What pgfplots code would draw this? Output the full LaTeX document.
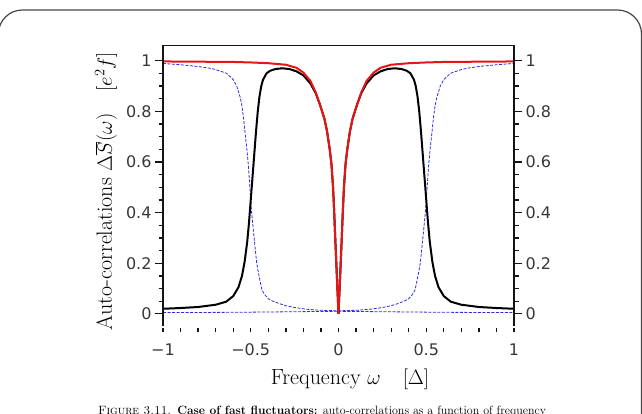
\documentclass[border=0pt]{standalone}
\usepackage{pgfplots}
\pgfplotsset{compat=1.18}
\usepackage{pgfplotstable}
\usepackage{fontspec}
\newfontfamily\tickfont{DejaVu Sans}

\definecolor{ticklab}{RGB}{55,55,55}
\definecolor{spine}{RGB}{20,20,20}
\definecolor{frameg}{RGB}{70,70,70}
\definecolor{curvered}{RGB}{230,20,20}
\definecolor{curveblue}{RGB}{45,45,225}

% total correlation (red)
\pgfplotstableread{
w S
-1 0.997
-0.8 0.996
-0.6 0.995
-0.5 0.993
-0.4 0.990
-0.3 0.984
-0.24 0.972
-0.2 0.953
-0.16 0.920
-0.13 0.875
-0.105 0.825
-0.08 0.770
-0.065 0.720
-0.05 0.650
-0.04 0.590
-0.031 0.500
-0.025 0.410
-0.018 0.290
-0.01 0.160
-0.005 0.080
0 0
0.005 0.080
0.01 0.160
0.018 0.290
0.025 0.410
0.031 0.500
0.04 0.590
0.05 0.650
0.065 0.720
0.08 0.770
0.105 0.825
0.13 0.875
0.16 0.920
0.2 0.953
0.24 0.972
0.3 0.984
0.4 0.990
0.5 0.993
0.6 0.995
0.8 0.996
1 0.997
}\redtab

% inner-band component (black)
\pgfplotstableread{
w S
-1 0.020
-0.9 0.023
-0.8 0.027
-0.7 0.036
-0.64 0.048
-0.6 0.070
-0.57 0.105
-0.55 0.150
-0.535 0.205
-0.52 0.285
-0.51 0.360
-0.5 0.450
-0.49 0.540
-0.48 0.630
-0.47 0.720
-0.46 0.800
-0.45 0.860
-0.44 0.900
-0.43 0.925
-0.41 0.950
-0.39 0.960
-0.36 0.967
-0.32 0.970
-0.28 0.967
-0.24 0.958
-0.2 0.942
-0.16 0.910
-0.13 0.872
-0.105 0.825
-0.08 0.770
-0.065 0.720
-0.05 0.650
-0.04 0.590
-0.031 0.500
-0.025 0.410
-0.018 0.290
-0.01 0.160
-0.005 0.080
0 0
0.005 0.080
0.01 0.160
0.018 0.290
0.025 0.410
0.031 0.500
0.04 0.590
0.05 0.650
0.065 0.720
0.08 0.770
0.105 0.825
0.13 0.872
0.16 0.910
0.2 0.942
0.24 0.958
0.28 0.967
0.32 0.970
0.36 0.967
0.39 0.960
0.41 0.950
0.43 0.925
0.44 0.900
0.45 0.860
0.46 0.800
0.47 0.720
0.48 0.630
0.49 0.540
0.5 0.450
0.51 0.360
0.52 0.285
0.535 0.205
0.55 0.150
0.57 0.105
0.6 0.070
0.64 0.048
0.7 0.036
0.8 0.027
0.9 0.023
1 0.020
}\blacktab

% outer-band component (blue, dashed)
\pgfplotstableread{
w S
-1 0.989
-0.9 0.984
-0.8 0.977
-0.732 0.970
-0.7 0.965
-0.637 0.950
-0.6 0.925
-0.58 0.900
-0.56 0.855
-0.55 0.820
-0.542 0.780
-0.53 0.700
-0.522 0.650
-0.514 0.590
-0.505 0.500
-0.495 0.400
-0.485 0.330
-0.475 0.260
-0.466 0.200
-0.457 0.165
-0.447 0.130
-0.436 0.094
-0.42 0.075
-0.4 0.060
-0.38 0.052
-0.34 0.041
-0.3 0.032
-0.25 0.025
-0.18 0.018
-0.1 0.014
0 0.012
0.1 0.014
0.18 0.018
0.25 0.025
0.3 0.032
0.34 0.041
0.38 0.052
0.4 0.060
0.42 0.075
0.436 0.094
0.447 0.130
0.457 0.165
0.466 0.200
0.475 0.260
0.485 0.330
0.495 0.400
0.505 0.500
0.514 0.590
0.522 0.650
0.53 0.700
0.542 0.780
0.55 0.820
0.56 0.855
0.58 0.900
0.6 0.925
0.637 0.950
0.7 0.965
0.732 0.970
0.8 0.977
0.9 0.984
1 0.989
}\bluetab

% small background term (blue, dashed)
\pgfplotstableread{
w S
-1 0.005
-0.6 0.006
-0.3 0.008
0 0.010
0.3 0.008
0.6 0.006
1 0.005
}\basetab

\pgfplotsset{
  common/.style={
    scale only axis, width=351pt, height=281pt,
    at={(163pt,87.5pt)}, anchor=south west,
    xmin=-1, xmax=1, ymin=-0.05, ymax=1.06,
    clip=false,
    tick align=outside,
    major tick length=8pt, minor tick length=4.5pt,
    every tick/.style={spine, line width=1.3pt},
    ytick={0,0.2,0.4,0.6,0.8,1},
    yticklabels={0,0.2,0.4,0.6,0.8,1},
    tick label style={font=\tickfont\fontsize{16}{16}\selectfont, text=ticklab},
    axis line style={draw=none},
  }
}

\begin{document}
\begin{tikzpicture}[x=1pt,y=1pt]
\useasboundingbox (0,0) rectangle (642,414);

% page frame
\draw[frameg, line width=1.2pt, rounded corners=24pt] (-1.6,-80) rectangle (641.5,404);

\begin{axis}[common,
    xtick={-1,-0.5,0,0.5,1},
    xticklabels={−1,−0.5,0,0.5,1},
    every major x tick/.append style={draw=none},
    minor xtick={-1,-0.9,-0.8,-0.7,-0.6,-0.5,-0.4,-0.3,-0.2,-0.1,0,0.1,0.2,0.3,0.4,0.5,0.6,0.7,0.8,0.9,1},
    xtick pos=bottom,
    every minor x tick/.append style={yshift=-1.5pt},
    xticklabel style={anchor=north, inner sep=0pt, yshift=-9pt},
    ytick pos=both,
    yticklabel pos=left,
    minor ytick={0.05,0.1,0.15,0.25,0.3,0.35,0.45,0.5,0.55,0.65,0.7,0.75,0.85,0.9,0.95},
  ]
  \addplot[curveblue, line width=0.8pt, dash pattern=on 3pt off 1.5pt] table[x=w,y=S] {\basetab};
  \addplot[curveblue, line width=0.8pt, dash pattern=on 3pt off 1.5pt] table[x=w,y=S] {\bluetab};
  \addplot[black, line width=2pt] table[x=w,y=S] {\blacktab};
  \addplot[curvered, line width=2pt] table[x=w,y=S] {\redtab};
  \draw[spine, line width=1.6pt, line join=miter]
    (rel axis cs:0,0) -- (rel axis cs:0,1) -- (rel axis cs:1,1) -- (rel axis cs:1,0);
\end{axis}

% right-hand tick labels
\begin{axis}[common,
    hide x axis,
    ytick pos=right,
    yticklabel pos=right,
    ytick style={draw=none},
  ]
\end{axis}

\node[font=\fontsize{22}{26}\selectfont] at (350,35) {Frequency $\omega\quad[\Delta]$};
\node[font=\fontsize{22}{26}\selectfont, rotate=90] at (106,223)
  {Auto-correlations $\Delta\overline{S}(\omega)\quad[e^2 f]$};

\node[anchor=north, inner sep=0pt, font=\fontsize{12}{14}\selectfont] at (322,8)
  {\textsc{Figure 3.11.}\enspace\textbf{Case of fast fluctuators:} auto-correlations as a function of frequency};
\end{tikzpicture}
\end{document}
